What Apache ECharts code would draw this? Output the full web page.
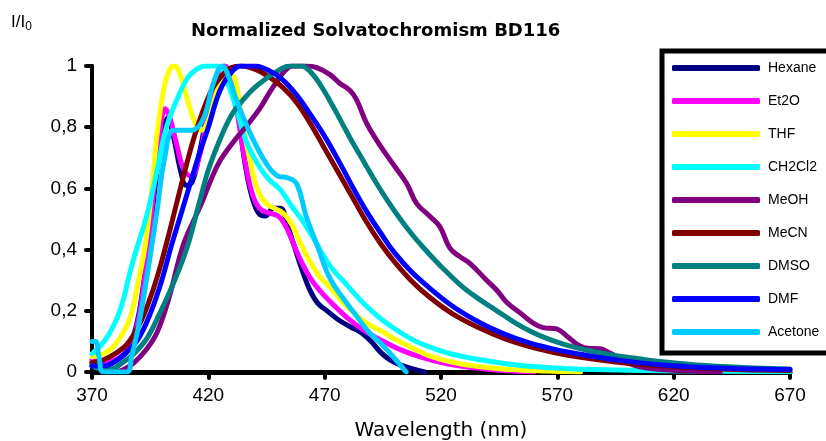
<!DOCTYPE html>
<html>
<head>
<meta charset="utf-8">
<script src="https://cdn.jsdelivr.net/npm/echarts@6/dist/echarts.min.js"></script>
<style>
  html, body { margin: 0; padding: 0; background: #fff; }
  #chart { width: 826px; height: 441px; }
</style>
</head>
<body>
<div id="chart"></div>
<script>
// tick values / labels
const wavelengthTicks = [370, 420, 470, 520, 570, 620, 670]
const intensityTickLabels = ['0', '0,2', '0,4', '0,6', '0,8', '1']

const solvents = ['Hexane', 'Et2O', 'THF', 'CH2Cl2', 'MeOH', 'MeCN', 'DMSO', 'DMF', 'Acetone']
const solventColors = ['#000080', '#ff00ff', '#ffff00', '#00ffff', '#800080', '#800000', '#008080', '#0000ff', '#00ccff']

// [wavelength nm, I/I0]
const hexane = [
  [370, 0.03], [375, 0.02], [380, 0.035], [385, 0.07], [389, 0.15], [392, 0.28], [395, 0.46], [398, 0.66],
  [400.5, 0.79], [402.5, 0.83], [405, 0.77], [408, 0.66], [410.5, 0.61], [413, 0.62], [416, 0.71], [420, 0.86],
  [424, 0.97], [427, 1.0], [430, 0.96], [433, 0.83], [436, 0.67], [439, 0.565], [442, 0.515], [444.5, 0.51],
  [448, 0.535], [451, 0.535], [454, 0.48], [457, 0.41], [460, 0.34], [463.5, 0.27], [467, 0.225], [471, 0.2],
  [476, 0.17], [481, 0.148], [486, 0.127], [490, 0.1], [494, 0.065], [498, 0.04], [503, 0.022], [508, 0.01], [513, 0]
]
const et2o = [
  [370, 0.04], [375, 0.03], [380, 0.04], [385, 0.07], [389, 0.14], [392, 0.27], [395, 0.48], [398, 0.7],
  [400, 0.83], [401.5, 0.86], [403.5, 0.83], [406.5, 0.74], [409.5, 0.66], [412.5, 0.64], [416, 0.7], [419, 0.81],
  [422, 0.92], [425, 0.985], [427, 1.0], [430, 0.95], [433, 0.82], [436, 0.68], [439, 0.58], [442, 0.535],
  [446, 0.52], [450, 0.51], [453, 0.48], [456, 0.43], [460, 0.36], [464, 0.305], [468, 0.265], [473, 0.225],
  [480, 0.175], [487, 0.135], [494, 0.105], [501, 0.078], [510, 0.052], [522, 0.028], [535, 0.013], [545, 0.006], [560, 0]
]
const thf = [
  [370, 0.05], [375, 0.06], [380, 0.09], [386, 0.17], [390, 0.3], [393, 0.42], [396, 0.62], [398, 0.78],
  [401, 0.93], [403.5, 0.99], [405.5, 1.0], [408, 0.97], [411, 0.89], [414, 0.82], [417, 0.79], [420, 0.82],
  [423, 0.9], [426, 0.96], [429, 0.975], [431.5, 0.955], [435, 0.8], [438, 0.69], [441, 0.6], [445, 0.55],
  [452, 0.52], [456, 0.48], [459, 0.43], [463, 0.37], [468, 0.31], [472, 0.28], [477, 0.235], [483, 0.19],
  [488, 0.16], [494, 0.135], [502, 0.1], [510, 0.07], [515, 0.053], [525, 0.032], [537, 0.017], [550, 0.008],
  [565, 0.003], [580, 0]
]
const ch2cl2 = [
  [370, 0.06], [373, 0.08], [377, 0.12], [382, 0.2], [387.5, 0.36], [393.5, 0.51], [398, 0.66], [402, 0.8],
  [406.5, 0.89], [411, 0.96], [415, 0.99], [419, 1.0], [424, 1.0], [428, 0.95], [432, 0.86], [436.5, 0.75],
  [442, 0.67], [446, 0.63], [451, 0.595], [456, 0.54], [460, 0.5], [465, 0.44], [472, 0.35], [479.5, 0.285],
  [487, 0.222], [494, 0.175], [501, 0.137], [508, 0.105], [515, 0.082], [525, 0.058], [537, 0.04], [548, 0.027],
  [558, 0.019], [575, 0.011], [600, 0.006], [630, 0.003], [670, 0.001]
]
const meoh = [
  [370, 0.02], [375, 0.01], [380, 0.0], [384, 0.01], [388, 0.03], [393, 0.07], [398, 0.13], [403, 0.24],
  [409, 0.41], [414, 0.5], [417, 0.55], [420.7, 0.62], [425, 0.69], [430.6, 0.75], [436, 0.8], [442, 0.86],
  [446, 0.91], [449.5, 0.95], [453, 0.985], [456, 1.0], [462, 1.0], [466.6, 0.995], [472.3, 0.972], [476.6, 0.943],
  [480.9, 0.92], [483.7, 0.89], [488, 0.813], [492.3, 0.758], [498.1, 0.693], [505.2, 0.617], [509.5, 0.551],
  [515.3, 0.508], [519.5, 0.475], [523.8, 0.405], [528.1, 0.377], [532.4, 0.355], [539.6, 0.3], [543.9, 0.268],
  [548.2, 0.228], [553.9, 0.194], [559.6, 0.16], [563.9, 0.145], [569.7, 0.141], [574, 0.118], [579.7, 0.085],
  [584, 0.077], [588.3, 0.076], [592.6, 0.062], [596, 0.048], [600, 0.03], [605, 0.018], [612, 0.01], [625, 0.004],
  [640, 0]
]
const mecn = [
  [370, 0.03], [375, 0.04], [380, 0.06], [385, 0.09], [390, 0.15], [394, 0.22], [398, 0.31], [402, 0.42],
  [406, 0.54], [410, 0.66], [414, 0.77], [418, 0.86], [422, 0.93], [426, 0.97], [430, 0.995], [434, 1.0],
  [440, 0.99], [446, 0.965], [452, 0.93], [458, 0.88], [464, 0.81], [470, 0.73], [476, 0.65], [482, 0.57],
  [488, 0.49], [494, 0.42], [500, 0.36], [507, 0.3], [515, 0.245], [525, 0.19], [537, 0.142], [547, 0.11],
  [558, 0.083], [569, 0.063], [580, 0.048], [595, 0.033], [614, 0.02], [640, 0.01], [670, 0.005]
]
const dmso = [
  [370, 0.02], [374, 0.01], [378, 0.01], [383, 0.03], [388, 0.06], [393.6, 0.11], [399, 0.19], [405, 0.29],
  [411, 0.41], [416, 0.55], [420, 0.66], [425, 0.76], [430, 0.84], [435, 0.89], [440, 0.93], [445, 0.96],
  [450, 0.985], [455, 1.0], [460, 1.0], [464, 0.98], [468, 0.94], [472, 0.89], [477, 0.82], [482, 0.75],
  [487, 0.685], [492, 0.62], [497, 0.56], [502, 0.505], [507, 0.455], [512, 0.41], [520, 0.345], [529, 0.28],
  [537, 0.235], [544, 0.2], [551, 0.165], [558, 0.135], [566, 0.108], [574, 0.088], [583, 0.071], [594, 0.055],
  [605, 0.043], [614, 0.034], [630, 0.023], [650, 0.015], [670, 0.01]
]
const dmf = [
  [370, 0.02], [375, 0.02], [380, 0.035], [385, 0.065], [390, 0.11], [395, 0.19], [400, 0.3], [404, 0.41],
  [408, 0.51], [412, 0.61], [416, 0.71], [420, 0.8], [425, 0.92], [430, 0.98], [434, 1.0], [440, 1.0],
  [446, 0.985], [452, 0.955], [458, 0.905], [464, 0.84], [470, 0.77], [476, 0.69], [482, 0.605], [488, 0.525],
  [494, 0.455], [500, 0.39], [507, 0.33], [515, 0.275], [525, 0.215], [537, 0.16], [547, 0.125], [558, 0.095],
  [569, 0.074], [580, 0.058], [595, 0.04], [614, 0.024], [640, 0.013], [670, 0.008]
]
const acetone = [
  [370, 0.1], [371.5, 0.1], [373, 0.05], [375, 0.0], [385, 0.0], [387, 0.05], [390, 0.15], [394, 0.33],
  [398, 0.53], [401, 0.69], [405, 0.79], [409, 0.79], [413, 0.79], [418, 0.83], [422, 0.94], [426, 1.0],
  [429, 0.96], [432, 0.89], [438, 0.78], [445, 0.68], [450, 0.64], [454, 0.635], [458, 0.615], [462, 0.51],
  [467, 0.41], [472, 0.31], [478, 0.24], [484, 0.18], [489, 0.13], [494, 0.095], [500, 0.045], [505, 0]
]

const solventData = [hexane, et2o, thf, ch2cl2, meoh, mecn, dmso, dmf, acetone]

const sans = '"Liberation Sans", Arial, sans-serif'
const chart = echarts.init(document.getElementById('chart'))

chart.setOption({
  animation: false,
  backgroundColor: '#fff',
  title: [
    {
      text: 'Normalized Solvatochromism BD116',
      left: 191,
      top: 22,
      padding: 0,
      textStyle: { fontFamily: '"DejaVu Sans", sans-serif', fontSize: 18, fontWeight: 'bold', color: '#000' }
    },
    {
      text: 'I/I{s|0}',
      left: 11,
      top: 11,
      padding: 0,
      textStyle: {
        fontFamily: sans, fontSize: 17, fontWeight: 'normal', color: '#000',
        rich: { s: { fontFamily: sans, fontSize: 12, color: '#000', padding: [10, 0, 0, 0] } }
      }
    }
  ],
  legend: {
    orient: 'vertical',
    left: 672,
    top: 60,
    padding: 0,
    itemWidth: 88,
    itemHeight: 6,
    itemGap: 17,
    icon: 'roundRect',
    data: solvents,
    textStyle: { fontFamily: sans, fontSize: 14, color: '#000', lineHeight: 16, padding: [0, 0, 0, 3] }
  },
  graphic: [
    {
      type: 'rect',
      z: 0,
      shape: { x: 662, y: 51, width: 200, height: 302 },
      style: { fill: '#fff', stroke: '#000', lineWidth: 5 }
    }
  ],
  grid: { left: 92, right: 36, top: 66, bottom: 69, outerBoundsMode: 'none' },
  xAxis: {
    type: 'value',
    min: 370,
    max: 670,
    name: 'Wavelength (nm)',
    nameLocation: 'middle',
    nameGap: 49,
    nameTextStyle: { fontFamily: '"DejaVu Sans", sans-serif', fontSize: 20, color: '#000' },
    axisLine: { lineStyle: { color: '#000', width: 5, cap: 'round' } },
    axisTick: { customValues: wavelengthTicks, length: 6, lineStyle: { color: '#000', width: 4, cap: 'round' } },
    axisLabel: { customValues: wavelengthTicks, margin: 14, fontFamily: sans, fontSize: 19, color: '#000' },
    splitLine: { show: false }
  },
  yAxis: {
    type: 'value',
    min: 0,
    max: 1,
    interval: 0.2,
    axisLine: { show: true, lineStyle: { color: '#000', width: 4, cap: 'round' } },
    axisTick: { show: true, length: 6, lineStyle: { color: '#000', width: 4, cap: 'round' } },
    axisLabel: {
      margin: 15, fontFamily: sans, fontSize: 19, color: '#000',
      formatter: (v) => intensityTickLabels[Math.round(v / 0.2)]
    },
    splitLine: { show: false }
  },
  series: solvents.map((name, i) => ({
    name,
    type: 'line',
    data: solventData[i],
    smooth: 0.4,
    showSymbol: false,
    color: solventColors[i],
    lineStyle: { width: 5, color: solventColors[i], cap: 'round', join: 'round' }
  }))
})
</script>
</body>
</html>
